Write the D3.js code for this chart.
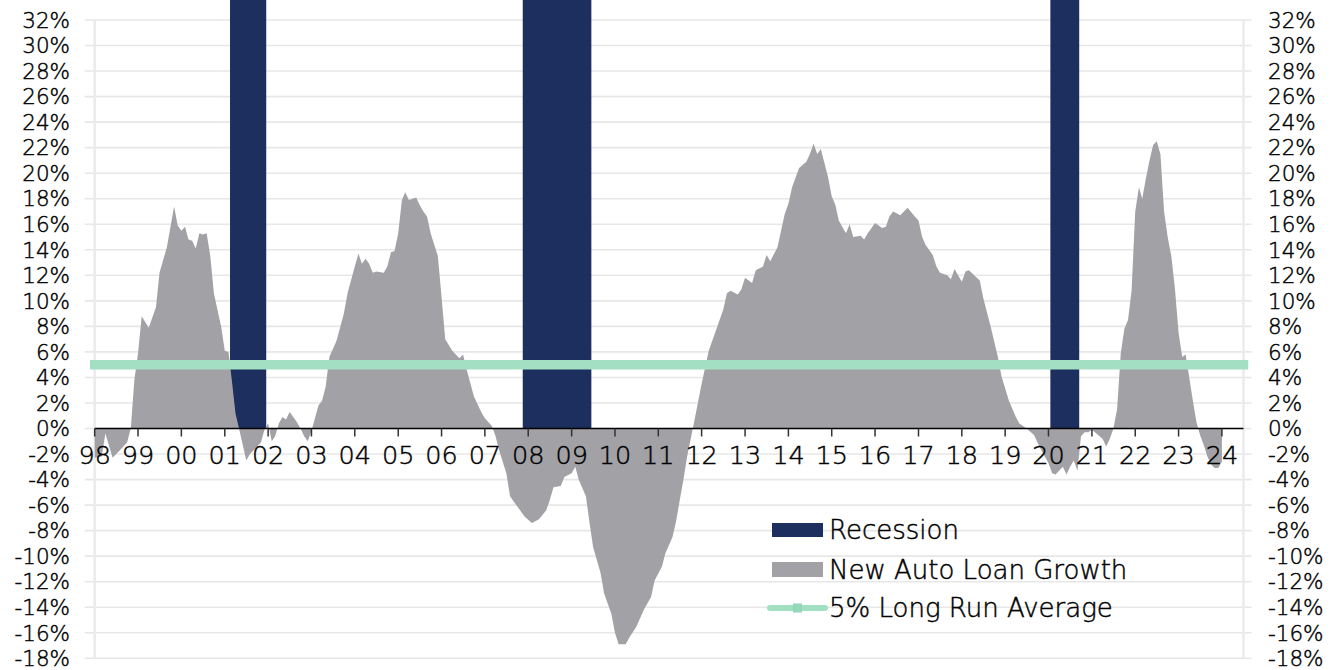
<!DOCTYPE html>
<html>
<head>
<meta charset="utf-8">
<script src="https://cdn.jsdelivr.net/npm/d3@7"></script>
<style>
  html, body { margin: 0; padding: 0; background: #fff; }
  svg { display: block; font-family: "DejaVu Sans", Lato, sans-serif; font-weight: 200; }
  svg text { fill: #000; stroke: #000; stroke-width: 0.45px; }
</style>
</head>
<body>
<svg id="chart" width="1336" height="670"></svg>
<script>
// New auto loan growth, year-over-year %, monthly
const loanDates = [
  "1998-01","1998-03","1998-04","1998-06","1998-08","1998-10","1998-11","1998-12",
  "1999-01","1999-02","1999-04","1999-06","1999-07","1999-09","1999-11","1999-12",
  "2000-01","2000-02","2000-03","2000-04","2000-05","2000-06","2000-07","2000-08","2000-09","2000-10","2000-12",
  "2001-01","2001-02","2001-03","2001-04","2001-05","2001-07","2001-08","2001-10","2001-11","2001-12",
  "2002-01","2002-02","2002-03","2002-04","2002-05","2002-06","2002-07","2002-08","2002-09","2002-10","2002-11","2002-12",
  "2003-01","2003-03","2003-04","2003-05","2003-06","2003-08","2003-10","2003-11",
  "2004-01","2004-02","2004-03","2004-04","2004-05","2004-06","2004-07","2004-09","2004-10","2004-11","2004-12",
  "2005-01","2005-02","2005-03","2005-04","2005-06","2005-07","2005-08","2005-09","2005-10","2005-12",
  "2006-01","2006-02","2006-04","2006-06","2006-07","2006-08","2006-10","2006-12",
  "2007-01","2007-03","2007-04","2007-05","2007-07","2007-08","2007-10","2007-12",
  "2008-02","2008-04","2008-06","2008-07","2008-08","2008-10","2008-11",
  "2009-01","2009-02","2009-03","2009-05","2009-06","2009-07","2009-09","2009-10","2009-12",
  "2010-01","2010-02","2010-04","2010-05","2010-07","2010-09","2010-11","2010-12",
  "2011-02","2011-03","2011-05","2011-06","2011-07","2011-08","2011-09","2011-11",
  "2012-01","2012-03","2012-05","2012-07","2012-08","2012-09","2012-11","2012-12",
  "2013-01","2013-03","2013-04","2013-06","2013-07","2013-08","2013-10","2013-12",
  "2014-01","2014-02","2014-04","2014-06","2014-07","2014-08","2014-09","2014-10","2014-12",
  "2015-01","2015-02","2015-03","2015-05","2015-06","2015-07","2015-09","2015-10","2015-11",
  "2016-01","2016-03","2016-04","2016-05","2016-06","2016-08","2016-10","2016-12",
  "2017-01","2017-02","2017-03","2017-05","2017-06","2017-07","2017-09","2017-10","2017-11",
  "2018-01","2018-02","2018-03","2018-06","2018-07","2018-09","2018-11","2018-12",
  "2019-02","2019-04","2019-05","2019-07","2019-09","2019-11",
  "2020-01","2020-02","2020-03","2020-05","2020-06","2020-07","2020-08","2020-09","2020-10","2020-11","2020-12",
  "2021-01","2021-04","2021-05","2021-06","2021-07","2021-08","2021-09","2021-10","2021-11","2021-12",
  "2022-01","2022-02","2022-03","2022-04","2022-05","2022-06","2022-07","2022-08","2022-09","2022-10","2022-11","2022-12",
  "2023-01","2023-02","2023-03","2023-04","2023-05","2023-06","2023-07","2023-08","2023-09","2023-10","2023-11","2023-12",
  "2024-01"
];
const loanGrowth = [
  -2.3,-2.2,-0.4,-2.3,-1.7,-1.1,0.0,3.8,
  5.9,8.8,7.9,9.5,12.2,14.2,17.4,15.9,
  15.5,15.8,14.8,14.7,14.1,15.3,15.2,15.3,13.5,10.6,8.0,
  6.1,6.0,3.8,1.2,0.0,-2.5,-2.0,-1.4,-1.1,-0.1,
  0.4,-1.0,-0.6,0.4,0.9,0.7,1.3,0.9,0.5,0.0,-0.6,-1.0,
  -0.2,1.8,2.2,3.3,5.6,6.9,9.0,10.6,
  12.7,13.7,12.9,13.3,12.9,12.2,12.3,12.2,12.7,13.8,13.9,
  15.3,17.9,18.5,17.9,18.1,17.5,17.0,16.6,15.3,13.5,
  10.3,7.0,6.1,5.5,5.8,4.6,2.5,1.3,
  0.8,0.2,-0.6,-1.7,-3.5,-5.3,-6.1,-6.9,
  -7.4,-7.1,-6.4,-5.6,-4.6,-4.5,-3.8,
  -3.5,-3.0,-4.0,-5.3,-7.4,-9.3,-11.3,-12.9,-14.5,
  -16.0,-16.9,-16.9,-16.4,-15.5,-14.2,-13.2,-11.9,
  -10.8,-9.8,-8.5,-7.2,-5.6,-4.0,-2.2,0.6,
  3.5,6.1,7.7,9.3,10.6,10.8,10.5,10.9,
  11.8,11.4,12.4,12.7,13.6,13.1,14.2,16.8,
  17.6,18.9,20.4,20.9,21.5,22.3,21.5,21.9,19.7,
  18.2,17.5,16.3,15.3,16.0,15.0,15.1,14.8,15.3,
  16.1,15.7,15.8,16.6,17.0,16.7,17.3,16.6,
  16.3,15.0,14.4,13.6,12.7,12.2,12.0,11.7,12.5,
  11.5,12.3,12.4,11.6,10.2,8.0,5.6,4.1,
  2.2,0.9,0.4,0.0,-0.5,-1.7,
  -2.7,-3.5,-3.6,-3.0,-3.6,-3.0,-2.5,-3.3,-0.6,-0.3,-0.3,
  -0.1,-0.8,-1.4,-0.8,0.0,1.5,5.9,7.8,8.5,10.8,
  17.0,18.9,18.0,19.6,21.0,22.2,22.5,21.5,17.0,15.0,13.5,11.0,
  7.5,5.6,5.8,4.0,2.2,0.5,-0.5,-1.3,-2.2,-2.8,-3.1,-3.1,
  -2.6
];

// NBER recession months (first and last month of each)
const recessionStart = ["2001-03", "2007-12", "2020-02"];
const recessionEnd   = ["2001-12", "2009-06", "2020-09"];

const longRunAverage = 5;

const percentTicks = [-18,-16,-14,-12,-10,-8,-6,-4,-2,0,2,4,6,8,10,12,14,16,18,20,22,24,26,28,30,32];
const yearTicks = [1998,1999,2000,2001,2002,2003,2004,2005,2006,2007,2008,2009,2010,
                   2011,2012,2013,2014,2015,2016,2017,2018,2019,2020,2021,2022,2023,2024];

const legendLabels = ["Recession", "New Auto Loan Growth", "5% Long Run Average"];

const colors = {
  recession: "#1c2f5e",
  growth: "#a2a1a6",
  average: "#a3dfc3",
  grid: "#e7e7e7"
};

const parseMonth = d3.utcParse("%Y-%m");
const series = loanDates.map((d, i) => ({ date: parseMonth(d), value: loanGrowth[i] }));

const svg = d3.select("#chart");
const plot = { left: 94.7, right: 1243.5, top: 20, bottom: 658.3 };

const x = d3.scaleUtc()
  .domain([Date.UTC(1998, 0, 1), Date.UTC(2024, 6, 1)])
  .range([plot.left, plot.right]);
const y = d3.scaleLinear()
  .domain([-18, 32])
  .range([plot.bottom, plot.top]);

// horizontal gridlines
svg.append("g")
  .selectAll("line")
  .data(percentTicks)
  .join("line")
  .attr("x1", plot.left - 10)
  .attr("x2", plot.right + 8)
  .attr("y1", d => y(d))
  .attr("y2", d => y(d))
  .attr("stroke", colors.grid)
  .attr("stroke-width", 1.6);

// side frame lines
svg.append("g")
  .selectAll("line")
  .data([plot.left, plot.right])
  .join("line")
  .attr("x1", d => d).attr("x2", d => d)
  .attr("y1", plot.top).attr("y2", plot.bottom)
  .attr("stroke", "#ebebeb")
  .attr("stroke-width", 2.5);

// recession shading, each month a full-width column
svg.append("g")
  .selectAll("rect")
  .data(recessionStart.map((s, i) => ({ start: parseMonth(s), end: parseMonth(recessionEnd[i]) })))
  .join("rect")
  .attr("x", d => x(d3.utcDay.offset(d.start, -15)))
  .attr("width", d => x(d3.utcDay.offset(d.end, 15)) - x(d3.utcDay.offset(d.start, -15)))
  .attr("y", 0)
  .attr("height", y(0))
  .attr("fill", colors.recession);

// loan growth area
const area = d3.area()
  .x(d => x(d.date))
  .y0(y(0))
  .y1(d => y(d.value));
svg.append("path")
  .datum(series)
  .attr("d", area)
  .attr("fill", colors.growth);

// long run average line
const avgLine = d3.line().x(d => x(d)).y(y(longRunAverage));
svg.append("path")
  .datum(x.domain())
  .attr("d", avgLine)
  .attr("fill", "none")
  .attr("stroke", colors.average)
  .attr("stroke-width", 9.5)
  .attr("stroke-linecap", "square");

// x axis at zero
const xAxis = svg.append("g");
xAxis.append("line")
  .attr("x1", plot.left).attr("x2", plot.right)
  .attr("y1", y(0)).attr("y2", y(0))
  .attr("stroke", "#000")
  .attr("stroke-width", 1.5);
xAxis.selectAll(".tick")
  .data(yearTicks)
  .join("line")
  .attr("class", "tick")
  .attr("x1", d => x(Date.UTC(d, 0, 1)))
  .attr("x2", d => x(Date.UTC(d, 0, 1)))
  .attr("y1", y(0))
  .attr("y2", y(0) + 8)
  .attr("stroke", "#333")
  .attr("stroke-width", 1.5);
const yy = d3.utcFormat("%y");
xAxis.selectAll("text")
  .data(yearTicks)
  .join("text")
  .attr("x", d => x(Date.UTC(d, 0, 1)))
  .attr("y", y(0) + 35)
  .attr("text-anchor", "middle")
  .attr("font-size", 25.5)
  .text(d => yy(new Date(Date.UTC(d, 0, 1))));

// percent labels, both sides
const pct = d => d + "%";
svg.append("g")
  .selectAll("text")
  .data(percentTicks)
  .join("text")
  .attr("x", 70)
  .attr("y", d => y(d))
  .attr("dy", "0.36em")
  .attr("text-anchor", "end")
  .attr("font-size", 21.5)
  .text(pct);
svg.append("g")
  .selectAll("text")
  .data(percentTicks)
  .join("text")
  .attr("x", 1268)
  .attr("y", d => y(d))
  .attr("dy", "0.36em")
  .attr("text-anchor", "start")
  .attr("font-size", 21.5)
  .text(pct);

// legend
const legend = svg.append("g").attr("transform", "translate(772,0)");
const rowY = [530, 569.5, 608];
legend.append("rect").attr("x", 0).attr("y", rowY[0] - 7).attr("width", 51).attr("height", 14).attr("fill", colors.recession);
legend.append("rect").attr("x", 0).attr("y", rowY[1] - 7.5).attr("width", 51).attr("height", 15).attr("fill", colors.growth);
legend.append("line").attr("x1", -2).attr("x2", 53).attr("y1", rowY[2]).attr("y2", rowY[2])
  .attr("stroke", colors.average).attr("stroke-width", 6).attr("stroke-linecap", "round");
legend.append("rect").attr("x", 21).attr("y", rowY[2] - 4.5).attr("width", 9).attr("height", 9).attr("fill", "#93d8b8");
legend.selectAll("text")
  .data(legendLabels)
  .join("text")
  .attr("x", 57)
  .attr("y", (d, i) => rowY[i])
  .attr("dy", "0.36em")
  .attr("font-size", 26)
  .text(d => d);
</script>
</body>
</html>
